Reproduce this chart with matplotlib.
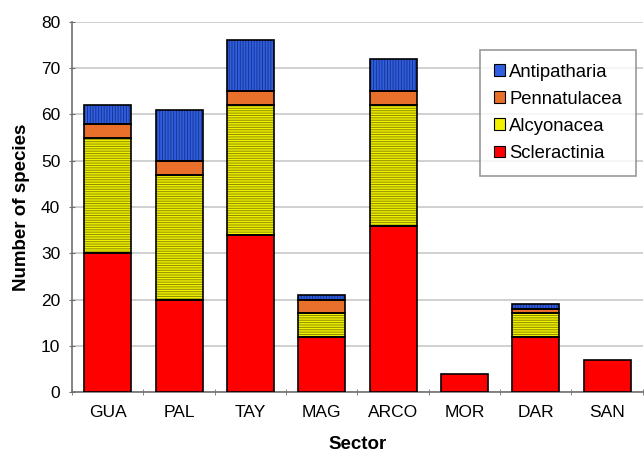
import matplotlib
matplotlib.use("Agg")
import matplotlib.pyplot as plt
from matplotlib.patches import Patch
import numpy as np

plt.rcParams['font.family'] = ['Liberation Sans', 'DejaVu Sans']
plt.rcParams['hatch.linewidth'] = 0.7

sectors = ["GUA", "PAL", "TAY", "MAG", "ARCO", "MOR", "DAR", "SAN"]
scleractinia = [30, 20, 34, 12, 36, 4, 12, 7]
alcyonacea = [25, 27, 28, 5, 26, 0, 5, 0]
pennatulacea = [3, 3, 3, 3, 3, 0, 1, 0]
antipatharia = [4, 11, 11, 1, 7, 0, 1, 0]

series = [
    ("Scleractinia", scleractinia, "#FF0000", None, "#FF0000"),
    ("Alcyonacea", alcyonacea, "#F2F200", "-------", "#8C8C00"),
    ("Pennatulacea", pennatulacea, "#E8702A", None, "#E8702A"),
    ("Antipatharia", antipatharia, "#2F5FE0", "||||||", "#1A3590"),
]

fig = plt.figure(figsize=(6.44, 4.57), dpi=100)
ax = fig.add_axes([0.112, 0.142, 0.886, 0.81])

x = np.arange(len(sectors))
w = 0.66
bottom = np.zeros(len(sectors))
for name, vals, fc, hatch, hc in series:
    vals = np.array(vals, dtype=float)
    mask = vals > 0
    ax.bar(x[mask], vals[mask], w, bottom=bottom[mask], color=fc, hatch=hatch,
           edgecolor=hc, linewidth=0, zorder=3)
    ax.bar(x[mask], vals[mask], w, bottom=bottom[mask], fill=False,
           edgecolor="black", linewidth=1.2, zorder=4)
    bottom += vals

ax.set_xlim(-0.5, len(sectors) - 0.5)
ax.set_ylim(0, 80)
ax.set_yticks(np.arange(0, 81, 10))
ax.yaxis.grid(True, color="#C8C8C8", linewidth=1.2, zorder=0)
ax.set_axisbelow(True)

ax.set_xticks(x)
ax.set_xticklabels(sectors, fontsize=12.5)
ax.set_xticks(np.arange(-0.5, len(sectors)), minor=True)
ax.tick_params(axis='x', which='major', length=0, pad=9)
ax.tick_params(axis='x', which='minor', length=5, color="#707070", direction='inout')
ax.tick_params(axis='y', labelsize=12.5, length=5, color="#707070", direction='inout', pad=6)

for s in ["top", "right"]:
    ax.spines[s].set_visible(False)
for s in ["left", "bottom"]:
    ax.spines[s].set_color("#707070")
    ax.spines[s].set_linewidth(1.2)

ax.set_ylabel("Number of species", fontsize=13.5, fontweight="bold", labelpad=8)
ax.set_xlabel("Sector", fontsize=13.5, fontweight="bold", labelpad=12)

handles = []
for name, vals, fc, hatch, hc in reversed(series):
    handles.append(Patch(facecolor=fc, edgecolor="black", linewidth=0.8, label=name))
leg = ax.legend(handles=handles, loc="upper right", bbox_to_anchor=(0.988, 0.925),
                fontsize=13.3, frameon=True, fancybox=False, edgecolor="#808080",
                handlelength=0.6, handleheight=0.6, handletextpad=0.25,
                labelspacing=0.55, borderpad=0.75, borderaxespad=0)
leg.get_frame().set_linewidth(1.2)

fig.savefig("out.png", dpi=100)
